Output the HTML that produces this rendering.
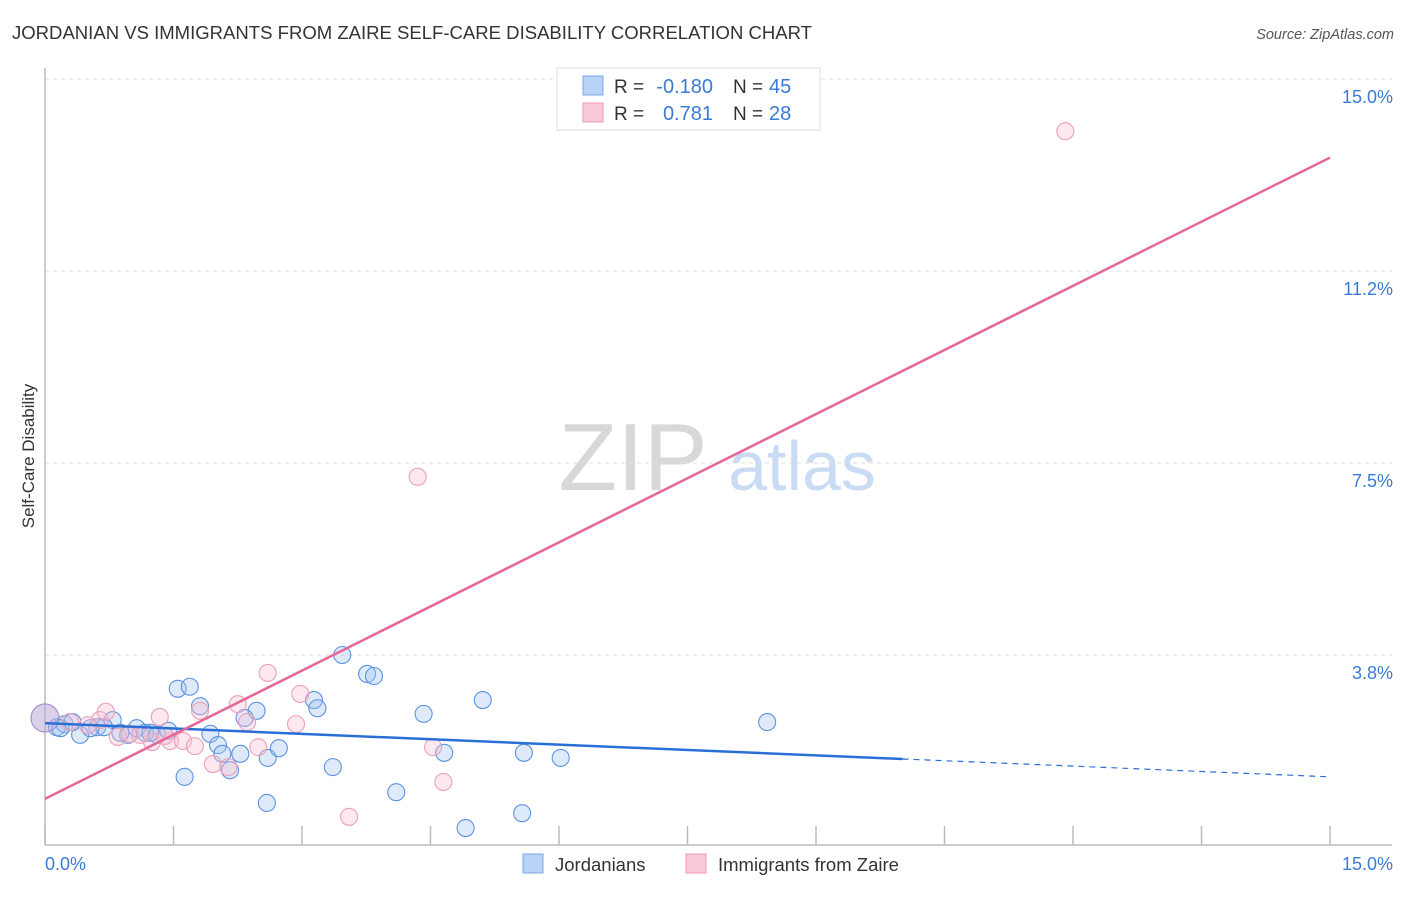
<!DOCTYPE html>
<html><head><meta charset="utf-8"><style>
body{margin:0;background:#fff;font-family:"Liberation Sans",sans-serif}
svg text{font-family:"Liberation Sans",sans-serif}
</style></head><body>
<svg id="chart" width="1406" height="892" viewBox="0 0 1406 892">
<text x="12" y="39" font-size="18" fill="#333" textLength="800" lengthAdjust="spacingAndGlyphs">JORDANIAN VS IMMIGRANTS FROM ZAIRE SELF-CARE DISABILITY CORRELATION CHART</text>
<text x="1394" y="39" font-size="14.5" fill="#555" font-style="italic" text-anchor="end">Source: ZipAtlas.com</text>
<text x="633" y="490" font-size="96" fill="#d8d8d8" font-family="Liberation Serif" text-anchor="middle">ZIP</text>
<text x="802" y="490" font-size="70" fill="#c9dcf3" text-anchor="middle">atlas</text>
<g id="grid"></g>
<line x1="45" y1="68" x2="45" y2="845" stroke="#bbb" stroke-width="1.5"/>
<line x1="45" y1="845" x2="1392" y2="845" stroke="#bbb" stroke-width="1.5"/>
<g id="ticks"></g>
<g id="pts"></g>
<g id="lines"></g>
<text x="45" y="870" font-size="18" fill="#3a7bd5">0.0%</text>
<text x="1393" y="870" font-size="18" fill="#3a7bd5" text-anchor="end">15.0%</text>
<text transform="translate(34,456) rotate(-90)" font-size="17" fill="#333" text-anchor="middle">Self-Care Disability</text>
<g>
<rect x="557" y="68" width="263" height="62" fill="#fff" stroke="#ddd"/>
<rect x="583" y="76" width="20" height="19" fill="#b8d3f5" stroke="#7aa7e6"/>
<rect x="583" y="103" width="20" height="19" fill="#f9c9d7" stroke="#ec9ab2"/>
<text x="614" y="93" font-size="19" fill="#333">R =</text>
<text x="713" y="93" font-size="20" fill="#3a7bd5" text-anchor="end">-0.180</text>
<text x="733" y="93" font-size="19" fill="#333">N =</text>
<text x="769" y="93" font-size="20" fill="#3a7bd5">45</text>
<text x="614" y="120" font-size="19" fill="#333">R =</text>
<text x="713" y="120" font-size="20" fill="#3a7bd5" text-anchor="end">0.781</text>
<text x="733" y="120" font-size="19" fill="#333">N =</text>
<text x="769" y="120" font-size="20" fill="#3a7bd5">28</text>
</g>
<g>
<rect x="523" y="854" width="20" height="19" fill="#b8d3f5" stroke="#7aa7e6"/>
<text x="555" y="871" font-size="18.5" fill="#333">Jordanians</text>
<rect x="686" y="854" width="20" height="19" fill="#f9c9d7" stroke="#ec9ab2"/>
<text x="718" y="871" font-size="18.5" fill="#333">Immigrants from Zaire</text>
</g>
</svg>
<script>
const yTicks=[15.0,11.25,7.5,3.75];
const yTickLabels=["15.0%","11.2%","7.5%","3.8%"];
const xTicks=[0,1.5,3,4.5,6,7.5,9,10.5,12,13.5,15];
const jordX=[0.14,0.23,0.41,0.61,0.79,0.69,0.97,1.07,1.17,1.31,1.44,1.55,1.69,1.63,1.81,1.93,2.02,2.07,2.16,2.28,2.47,2.33,2.60,2.59,2.73,3.14,3.18,3.36,3.47,3.76,3.84,4.10,4.42,4.66,4.91,5.11,5.57,5.59,6.02,8.43,0.18,0.32,1.23,0.88,0.53];
const jordY=[2.34,2.40,2.19,2.34,2.48,2.34,2.19,2.32,2.23,2.19,2.27,3.09,3.13,1.37,2.75,2.21,1.99,1.82,1.50,1.82,2.66,2.52,1.74,0.86,1.93,2.87,2.71,1.56,3.75,3.38,3.34,1.07,2.60,1.84,0.37,2.87,0.66,1.84,1.74,2.44,2.32,2.44,2.23,2.23,2.32];
const zaireX=[0,0.29,0.64,0.71,0.85,0.99,1.25,1.34,1.46,1.61,1.75,1.81,1.96,2.14,2.25,2.36,2.49,2.60,2.93,2.98,3.55,4.35,4.53,4.65,11.91,0.50,1.11,1.40];
const zaireY=[2.52,2.44,2.48,2.64,2.15,2.21,2.05,2.54,2.07,2.07,1.97,2.66,1.62,1.56,2.79,2.44,1.95,3.40,2.40,2.99,0.59,7.23,1.95,1.27,13.98,2.38,2.19,2.17];
const jordTrend=[2.42,-0.07];
const zaireTrend=[0.94,0.835];
const jordSolidEnd=10.01;
const NS="http://www.w3.org/2000/svg";
const sx=v=>45+v*(1285/15), sy=v=>847-v*(768/15);
function mk(t,a,p){const e=document.createElementNS(NS,t);for(const k in a)e.setAttribute(k,a[k]);p.appendChild(e);return e;}
const grid=document.getElementById('grid'),ticks=document.getElementById('ticks'),pts=document.getElementById('pts'),lines=document.getElementById('lines');
yTicks.forEach((v,i)=>{
 const l=mk('line',{x1:45,x2:1392,y1:sy(v),y2:sy(v),stroke:'#ddd','stroke-dasharray':'4,4'},grid);
 
 
 const t=mk('text',{x:1393,y:sy(v)+24,'font-size':18,fill:'#3a7bd5','text-anchor':'end'},grid);
 t.textContent=yTickLabels[i];
 
 
});
xTicks.forEach(v=>{
 const l=mk('line',{x1:sx(v),x2:sx(v),y1:826,y2:845,stroke:'#bbb','stroke-width':1.5},ticks);
 
 
});
jordX.forEach((x,i)=>{
 const c=mk('circle',{cx:sx(x),cy:sy(jordY[i]),r:8.5,fill:'rgba(160,195,240,0.35)',stroke:'#5b93e0','stroke-width':1.1},pts);
 
 
});
zaireX.forEach((x,i)=>{
 const c=mk('circle',{cx:sx(x),cy:sy(zaireY[i]),r:i===0?14:8.5,fill:i===0?'rgba(190,170,215,0.55)':'rgba(248,190,208,0.35)',stroke:i===0?'#9c8fd0':'#eca0b8','stroke-width':1.1},pts);
 
 
});
const jl=mk('line',{x1:sx(0),y1:sy(jordTrend[0]),x2:sx(jordSolidEnd),y2:sy(jordTrend[0]+jordTrend[1]*jordSolidEnd),stroke:'#2a6fd6','stroke-width':2.5},lines);


const jd=mk('line',{x1:sx(jordSolidEnd),y1:sy(jordTrend[0]+jordTrend[1]*jordSolidEnd),x2:sx(15),y2:sy(jordTrend[0]+jordTrend[1]*15),stroke:'#2a6fd6','stroke-width':1.2,'stroke-dasharray':'6,5'},lines);


const zl=mk('line',{x1:sx(0),y1:sy(zaireTrend[0]),x2:sx(15),y2:sy(zaireTrend[0]+zaireTrend[1]*15),stroke:'#e4689a','stroke-width':2.5},lines);


</script>
</body></html>
